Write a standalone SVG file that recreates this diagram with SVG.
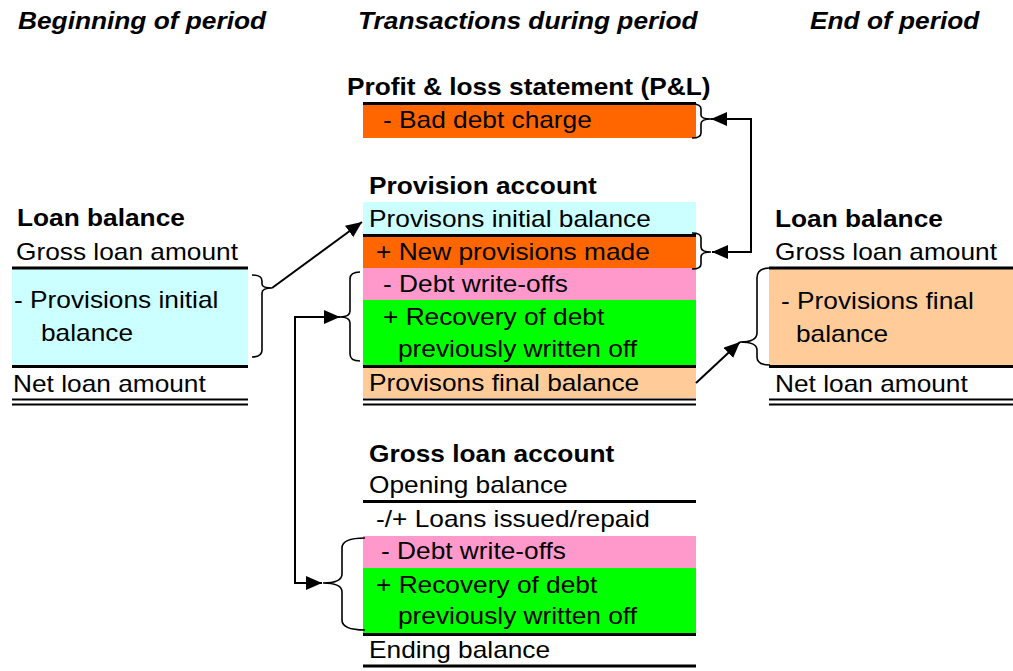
<svg xmlns="http://www.w3.org/2000/svg" width="1013" height="671" viewBox="0 0 1013 671">
<style>
text{font-family:"Liberation Sans",Arial,sans-serif;font-size:24px;fill:#000}
.b{font-weight:bold}
.h{font-weight:bold;font-style:italic}
.ln{stroke:#000;stroke-width:3;fill:none}
.dl{stroke:#000;stroke-width:2;fill:none}
.br{stroke:#000;stroke-width:1.6;fill:none}
.ar{stroke:#000;stroke-width:2;fill:none}
</style>
<defs>
<marker id="ah" markerUnits="userSpaceOnUse" markerWidth="16" markerHeight="14" viewBox="0 0 16 14" refX="16" refY="7" orient="auto-start-reverse">
<path d="M0,0 L16,7 L0,14 z" fill="#000"/>
</marker>
</defs>
<rect width="1013" height="671" fill="#fff"/>

<g id="headers">
<text class="h" transform="translate(18,29) scale(1.095,1)">Beginning of period</text>
<text class="h" transform="translate(358,29) scale(1.095,1)">Transactions during period</text>
<text class="h" transform="translate(810,29) scale(1.095,1)">End of period</text>
</g>

<g id="loan-begin">
<rect x="12" y="268" width="236" height="98" fill="#CCFFFF"/>
<line class="ln" x1="12" y1="268" x2="248" y2="268"/>
<line class="ln" x1="12" y1="366.5" x2="248" y2="366.5"/>
<line class="dl" x1="12" y1="399.5" x2="248" y2="399.5"/>
<line class="dl" x1="12" y1="404.5" x2="248" y2="404.5"/>
<text class="b" transform="translate(17,226) scale(1.095,1)">Loan balance</text>
<text transform="translate(16,260) scale(1.095,1)">Gross loan amount</text>
<text transform="translate(14,308) scale(1.095,1)">- Provisions initial</text>
<text transform="translate(41,341) scale(1.095,1)">balance</text>
<text transform="translate(13,392) scale(1.095,1)">Net loan amount</text>
<path class="br" d="M252,275 Q262,275 262,281 L262,284 Q262,288 272,288 Q262,288 262,293 L262,350 Q262,357 252,357"/>
</g>

<g id="pl">
<rect x="363" y="103" width="333" height="35" fill="#FF6600"/>
<line class="ln" x1="363" y1="103.5" x2="696" y2="103.5"/>
<text class="b" transform="translate(347,95) scale(1.095,1)">Profit &amp; loss statement (P&amp;L)</text>
<text transform="translate(383,128) scale(1.095,1)">- Bad debt charge</text>
<path class="br" d="M692,104 Q701,104 701,109 L701,115 Q701,119 711,119 Q701,119 701,124 L701,133 Q701,138 692,138"/>
</g>

<g id="provision">
<rect x="363" y="202" width="333" height="33" fill="#CCFFFF"/>
<rect x="363" y="236" width="333" height="32" fill="#FF6600"/>
<rect x="363" y="268" width="333" height="32" fill="#FF99CC"/>
<rect x="363" y="300" width="333" height="65" fill="#00FF00"/>
<rect x="363" y="368" width="333" height="30" fill="#FFCC99"/>
<line class="ln" x1="363" y1="235.5" x2="696" y2="235.5"/>
<line class="ln" x1="363" y1="366.5" x2="696" y2="366.5"/>
<line class="dl" x1="363" y1="399.5" x2="696" y2="399.5"/>
<line class="dl" x1="363" y1="404.5" x2="696" y2="404.5"/>
<text class="b" transform="translate(369,194) scale(1.095,1)">Provision account</text>
<text transform="translate(369,227) scale(1.095,1)">Provisons initial balance</text>
<text transform="translate(376,260) scale(1.095,1)">+ New provisions made</text>
<text transform="translate(383,292) scale(1.095,1)">- Debt write-offs</text>
<text transform="translate(383,325) scale(1.095,1)">+ Recovery of debt</text>
<text transform="translate(398,357) scale(1.095,1)">previously written off</text>
<text transform="translate(369,391) scale(1.095,1)">Provisons final balance</text>
<path class="br" d="M692,233 Q701,233 701,238 L701,247 Q701,252 711,252 Q701,252 701,257 L701,264 Q701,269 692,269"/>
<path class="br" d="M360,272 Q350,272 350,279 L350,311 Q350,317 340,317 Q350,317 350,323 L350,354 Q350,361 360,361"/>
</g>

<g id="gross-loan">
<rect x="363" y="536" width="333" height="32" fill="#FF99CC"/>
<rect x="363" y="568" width="333" height="65" fill="#00FF00"/>
<line class="ln" x1="363" y1="501.5" x2="696" y2="501.5"/>
<line class="ln" x1="363" y1="634.5" x2="696" y2="634.5"/>
<line class="ln" x1="363" y1="666" x2="696" y2="666"/>
<text class="b" transform="translate(369,462) scale(1.095,1)">Gross loan account</text>
<text transform="translate(369,493) scale(1.095,1)">Opening balance</text>
<text transform="translate(376,527) scale(1.095,1)">-/+ Loans issued/repaid</text>
<text transform="translate(381,559) scale(1.095,1)">- Debt write-offs</text>
<text transform="translate(376,593) scale(1.095,1)">+ Recovery of debt</text>
<text transform="translate(398,624) scale(1.095,1)">previously written off</text>
<text transform="translate(369,658) scale(1.095,1)">Ending balance</text>
<path class="br" d="M365,538 Q342,538 342,548 L342,574 Q342,583 323,583 Q342,583 342,592 L342,620 Q342,630 365,630"/>
</g>

<g id="loan-end">
<rect x="769" y="268" width="244" height="97" fill="#FFCC99"/>
<line class="ln" x1="769" y1="268" x2="1013" y2="268"/>
<line class="ln" x1="769" y1="366.5" x2="1013" y2="366.5"/>
<line class="dl" x1="769" y1="399.5" x2="1013" y2="399.5"/>
<line class="dl" x1="769" y1="404.5" x2="1013" y2="404.5"/>
<text class="b" transform="translate(775,227) scale(1.095,1)">Loan balance</text>
<text transform="translate(775,260) scale(1.095,1)">Gross loan amount</text>
<text transform="translate(781,309) scale(1.095,1)">- Provisions final</text>
<text transform="translate(796,342) scale(1.095,1)">balance</text>
<text transform="translate(775,392) scale(1.095,1)">Net loan amount</text>
<path class="br" d="M770,268 Q757,268 757,278 L757,333 Q757,342 740,342 Q757,342 757,350 L757,357 Q757,365 770,365"/>
</g>

<g id="connectors">
<path class="ar" d="M272,288 L362,222" marker-end="url(#ah)"/>
<path class="ar" d="M711,119 H751 V252 H712" marker-start="url(#ah)" marker-end="url(#ah)"/>
<path class="ar" d="M340,317 H295 V583 H322" marker-start="url(#ah)" marker-end="url(#ah)"/>
<path class="ar" d="M696,383 L740,342" marker-end="url(#ah)"/>
</g>
</svg>
